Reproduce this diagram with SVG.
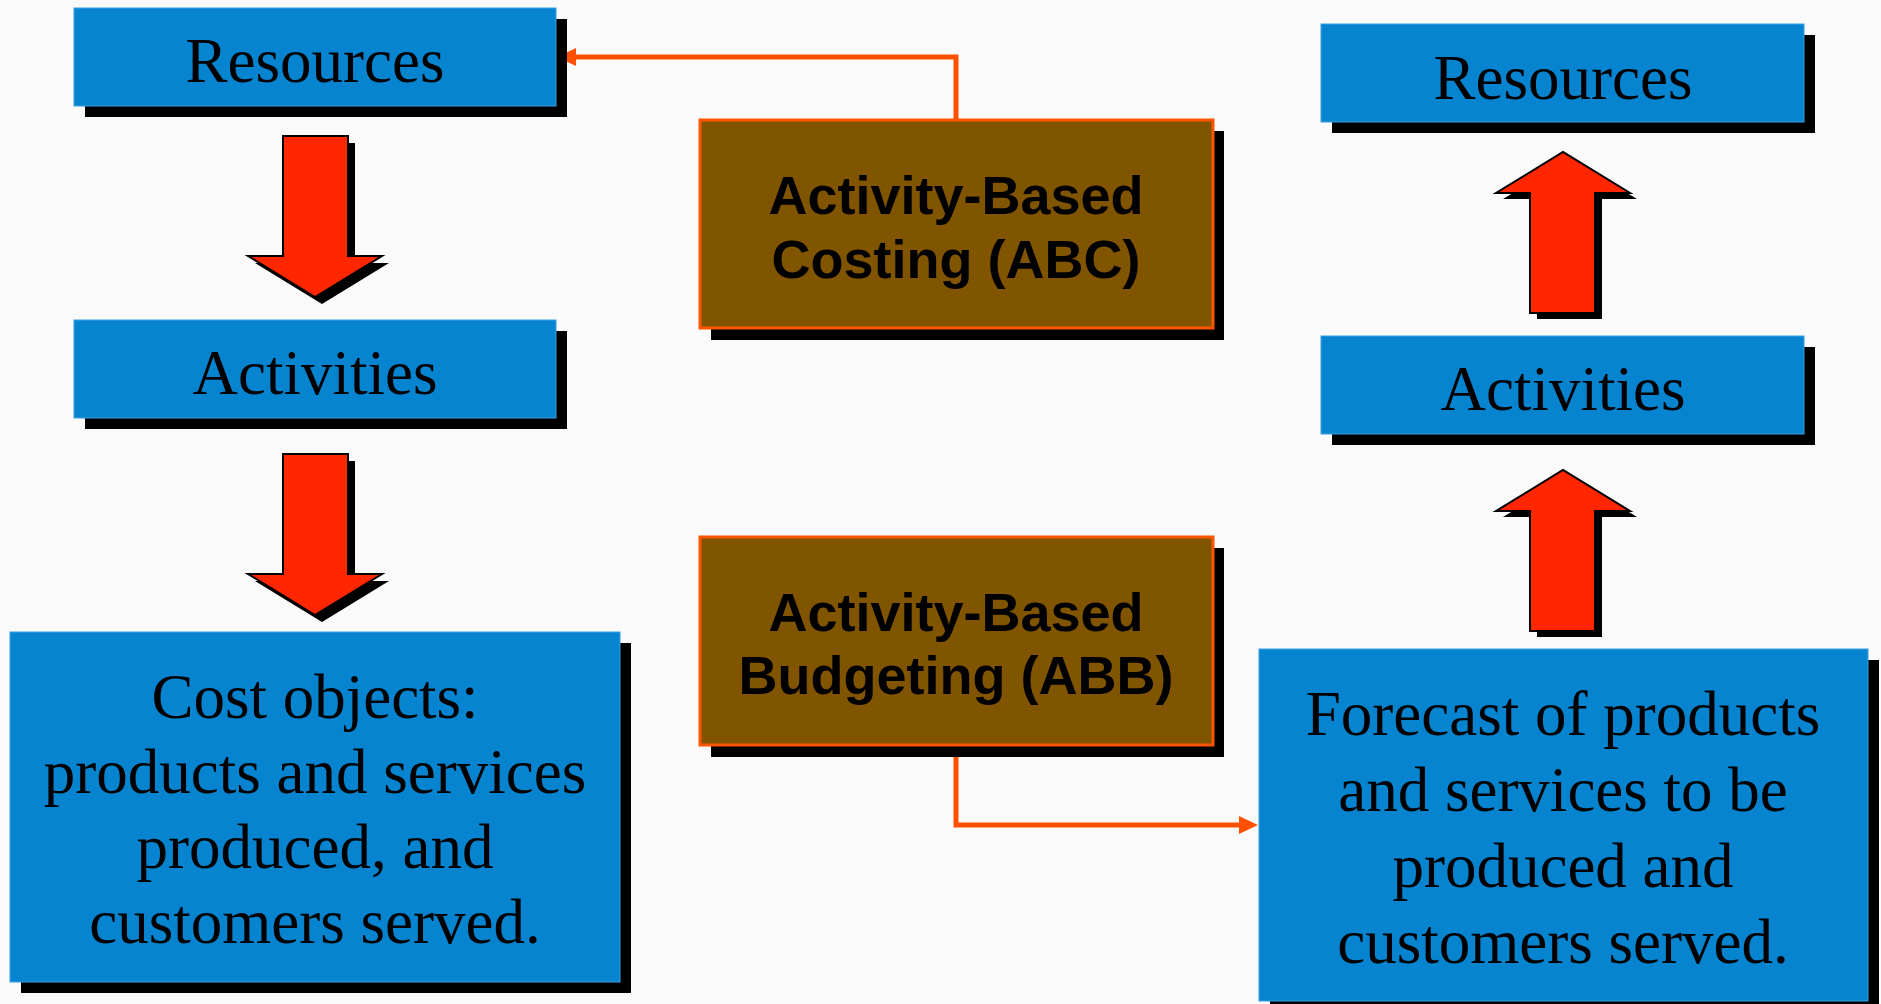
<svg xmlns="http://www.w3.org/2000/svg" width="1881" height="1004" viewBox="0 0 1881 1004">
<style>
.bg{fill:#FAFAFA}
.shadow{fill:#000}
.blue{fill:#0784CF;stroke:#3A9FE0;stroke-width:1}
.brown{fill:#815400;stroke:#FF5500;stroke-width:3}
.serif{font-family:"Liberation Serif","Times New Roman",serif;font-size:63px;fill:#000;text-anchor:middle}
.sans{font-family:"Liberation Sans",Arial,sans-serif;font-size:54px;font-weight:bold;fill:#000;text-anchor:middle}
.arrow{fill:#FF2600;stroke:#000;stroke-width:2;stroke-linejoin:miter}
.conn{fill:none;stroke:#FF5000;stroke-width:5}
</style>
<defs>
<marker id="head" markerUnits="userSpaceOnUse" markerWidth="20" markerHeight="20" refX="10" refY="9" orient="auto" viewBox="0 0 20 18">
<path d="M0,0 L19,9 L0,18 Z" fill="#FF5000"/>
</marker>
<path id="down" d="M283,0 H348 V120 H382 L315,161 L248,120 H283 Z"/>
<path id="up" d="M1530,161 H1595 V41 H1630 L1563,0 L1496,41 H1530 Z"/>
</defs>
<rect class="bg" x="0" y="0" width="1881" height="1004"/>

<g id="connectors">
<path class="conn" d="M956,120 V57 H566" marker-end="url(#head)"/>
<path class="conn" d="M956,745 V825 H1249" marker-end="url(#head)"/>
</g>

<g id="res-left">
<rect class="shadow" x="85" y="19" width="482" height="98"/>
<rect class="blue" x="74" y="8" width="482" height="98"/>
<text class="serif" x="315" y="82">Resources</text>
</g>

<g id="arrow-left-1">
<use href="#down" class="shadow" x="7" y="143"/>
<use href="#down" class="arrow" x="0" y="136"/>
</g>

<g id="act-left">
<rect class="shadow" x="85" y="331" width="482" height="98"/>
<rect class="blue" x="74" y="320" width="482" height="98"/>
<text class="serif" x="315" y="394">Activities</text>
</g>

<g id="arrow-left-2">
<use href="#down" class="shadow" x="7" y="461"/>
<use href="#down" class="arrow" x="0" y="454"/>
</g>

<g id="cost-objects">
<rect class="shadow" x="21" y="643" width="610" height="350"/>
<rect class="blue" x="10" y="632" width="610" height="350"/>
<text class="serif" x="315" y="718">Cost objects:</text>
<text class="serif" x="315" y="793">products and services</text>
<text class="serif" x="315" y="868">produced, and</text>
<text class="serif" x="315" y="943">customers served.</text>
</g>

<g id="abc">
<rect class="shadow" x="711" y="131" width="513" height="209"/>
<rect class="brown" x="700" y="120" width="513" height="208"/>
<text class="sans" x="956" y="214">Activity-Based</text>
<text class="sans" x="956" y="278">Costing (ABC)</text>
</g>

<g id="abb">
<rect class="shadow" x="711" y="548" width="513" height="209"/>
<rect class="brown" x="700" y="537" width="513" height="208"/>
<text class="sans" x="956" y="631">Activity-Based</text>
<text class="sans" x="956" y="694">Budgeting (ABB)</text>
</g>

<g id="res-right">
<rect class="shadow" x="1332" y="35" width="483" height="98"/>
<rect class="blue" x="1321" y="24" width="483" height="98"/>
<text class="serif" x="1563" y="99">Resources</text>
</g>

<g id="arrow-right-1">
<use href="#up" class="shadow" x="7" y="158"/>
<use href="#up" class="arrow" x="0" y="152"/>
</g>

<g id="act-right">
<rect class="shadow" x="1332" y="347" width="483" height="98"/>
<rect class="blue" x="1321" y="336" width="483" height="98"/>
<text class="serif" x="1563" y="410">Activities</text>
</g>

<g id="arrow-right-2">
<use href="#up" class="shadow" x="7" y="476"/>
<use href="#up" class="arrow" x="0" y="470"/>
</g>

<g id="forecast">
<rect class="shadow" x="1270" y="660" width="609" height="352"/>
<rect class="blue" x="1259" y="649" width="609" height="352"/>
<text class="serif" x="1563" y="735">Forecast of products</text>
<text class="serif" x="1563" y="811">and services to be</text>
<text class="serif" x="1563" y="887">produced and</text>
<text class="serif" x="1563" y="963">customers served.</text>
</g>
</svg>
